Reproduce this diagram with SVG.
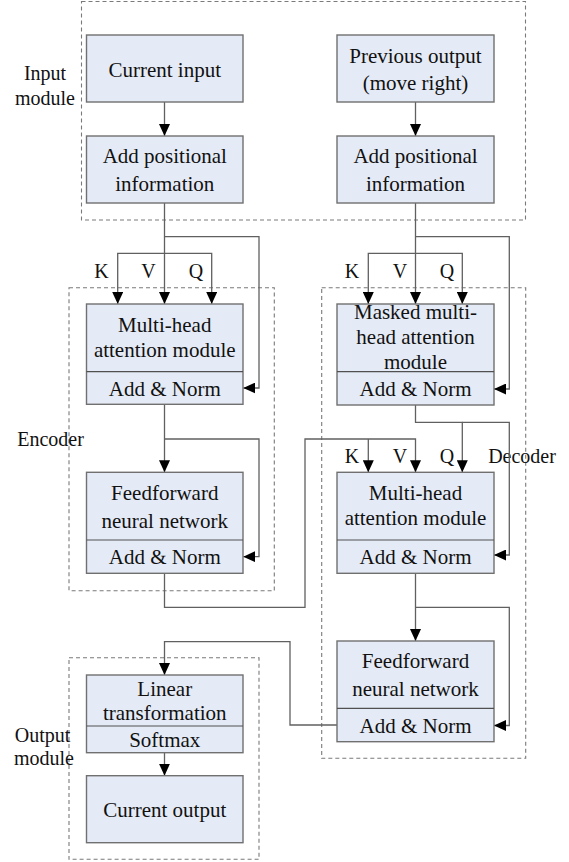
<svg xmlns="http://www.w3.org/2000/svg" width="569" height="862" viewBox="0 0 569 862">
<defs>
<style>
.box{fill:#e5ebf6;stroke:#707070;stroke-width:1.4}
.div{stroke:#505050;stroke-width:1.2}
.grp{fill:none;stroke:#7a7a7a;stroke-width:1.1;stroke-dasharray:4,3}
.ln{fill:none;stroke:#606060;stroke-width:1.3}
.t{font-family:"Liberation Serif","Times New Roman",serif;font-size:21px;fill:#111;text-anchor:middle}
.lb{font-family:"Liberation Serif","Times New Roman",serif;font-size:20px;fill:#111;text-anchor:middle}
</style>
<marker id="ar" viewBox="0 0 12 11" refX="12" refY="5.5" markerWidth="12" markerHeight="11" markerUnits="userSpaceOnUse" orient="auto">
<path d="M0,0 L12,5.5 L0,11 z" fill="#000"/>
</marker>
</defs>
<rect width="569" height="862" fill="#fff"/>

<g id="groups">
<rect class="grp" x="81.5" y="1.5" width="444" height="218.5"/>
<rect class="grp" x="69" y="287.7" width="205.3" height="303"/>
<rect class="grp" x="321.7" y="287.7" width="204" height="470.6"/>
<rect class="grp" x="69" y="657.7" width="190" height="201.6"/>
</g>

<g id="labels">
<text class="lb" x="45" y="80">Input</text>
<text class="lb" x="45" y="105">module</text>
<text class="lb" x="50.5" y="446">Encoder</text>
<text class="lb" x="522" y="463">Decoder</text>
<text class="lb" x="42.5" y="742">Output</text>
<text class="lb" x="44" y="765">module</text>
<text class="lb" x="101.5" y="278">K</text>
<text class="lb" x="148.5" y="278">V</text>
<text class="lb" x="196" y="278">Q</text>
<text class="lb" x="352" y="278">K</text>
<text class="lb" x="400" y="278">V</text>
<text class="lb" x="447" y="278">Q</text>
<text class="lb" x="352" y="463">K</text>
<text class="lb" x="400" y="463">V</text>
<text class="lb" x="447" y="463">Q</text>
</g>

<g id="connectors">
<path class="ln" d="M164.5,102 V136" marker-end="url(#ar)"/>
<path class="ln" d="M415.5,102 V136" marker-end="url(#ar)"/>
<path class="ln" d="M164.5,203 V304" marker-end="url(#ar)"/>
<path class="ln" d="M164.5,253.3 H117.7 V304" marker-end="url(#ar)"/>
<path class="ln" d="M164.5,253.3 H211.7 V304" marker-end="url(#ar)"/>
<path class="ln" d="M164.5,236.7 H259 V388 H243.3" marker-end="url(#ar)"/>
<path class="ln" d="M164.5,404.3 V472.3" marker-end="url(#ar)"/>
<path class="ln" d="M164.5,439 H259 V556.7 H243.3" marker-end="url(#ar)"/>
<path class="ln" d="M164.5,573.3 V607.3 H305 V439 H415.5 V472.3" marker-end="url(#ar)"/>
<path class="ln" d="M368.3,439 V472.3" marker-end="url(#ar)"/>
<path class="ln" d="M415.5,203 V304" marker-end="url(#ar)"/>
<path class="ln" d="M415.5,253.3 H368.3 V304" marker-end="url(#ar)"/>
<path class="ln" d="M415.5,253.3 H462.3 V304" marker-end="url(#ar)"/>
<path class="ln" d="M415.5,236.7 H509.3 V389 H494" marker-end="url(#ar)"/>
<path class="ln" d="M415.5,405 V422.3 H462.3 V472.3" marker-end="url(#ar)"/>
<path class="ln" d="M462.3,422.3 H509.3 V555 H494" marker-end="url(#ar)"/>
<path class="ln" d="M415.5,573.3 V641" marker-end="url(#ar)"/>
<path class="ln" d="M415.5,607.3 H509.3 V725.5 H494" marker-end="url(#ar)"/>
<path class="ln" d="M337,725 H290 V641.7 H164.5 V675" marker-end="url(#ar)"/>
<path class="ln" d="M164.5,752.7 V775.7" marker-end="url(#ar)"/>
</g>

<g id="current-input">
<rect class="box" x="86.5" y="35" width="156.5" height="67"/>
<text class="t" x="164.75" y="77">Current input</text>
</g>
<g id="add-pos-left">
<rect class="box" x="86.5" y="136" width="156.5" height="67"/>
<text class="t" x="164.75" y="163">Add positional</text>
<text class="t" x="164.75" y="191">information</text>
</g>
<g id="previous-output">
<rect class="box" x="337" y="35" width="157" height="67"/>
<text class="t" x="415.5" y="63">Previous output</text>
<text class="t" x="415.5" y="90">(move right)</text>
</g>
<g id="add-pos-right">
<rect class="box" x="337" y="136" width="157" height="67"/>
<text class="t" x="415.5" y="163">Add positional</text>
<text class="t" x="415.5" y="191">information</text>
</g>

<g id="enc-mha">
<rect class="box" x="86.5" y="304" width="156.5" height="100.3"/>
<line class="div" x1="86.5" y1="371.7" x2="243" y2="371.7"/>
<text class="t" x="164.75" y="332">Multi-head</text>
<text class="t" x="164.75" y="357">attention module</text>
<text class="t" x="164.75" y="396">Add &amp; Norm</text>
</g>
<g id="enc-ff">
<rect class="box" x="86.5" y="472.3" width="156.5" height="101"/>
<line class="div" x1="86.5" y1="540" x2="243" y2="540"/>
<text class="t" x="164.75" y="499.5">Feedforward</text>
<text class="t" x="164.75" y="527.5">neural network</text>
<text class="t" x="164.75" y="563.5">Add &amp; Norm</text>
</g>

<g id="dec-masked">
<rect class="box" x="337" y="304" width="157" height="101"/>
<line class="div" x1="337" y1="371.7" x2="494" y2="371.7"/>
<text class="t" x="415.5" y="318.7">Masked multi-</text>
<text class="t" x="415.5" y="344">head attention</text>
<text class="t" x="415.5" y="369">module</text>
<text class="t" x="415.5" y="395.5">Add &amp; Norm</text>
</g>
<g id="dec-mha">
<rect class="box" x="337" y="472.3" width="157" height="101"/>
<line class="div" x1="337" y1="540" x2="494" y2="540"/>
<text class="t" x="415.5" y="500">Multi-head</text>
<text class="t" x="415.5" y="525">attention module</text>
<text class="t" x="415.5" y="564">Add &amp; Norm</text>
</g>
<g id="dec-ff">
<rect class="box" x="337" y="641" width="157" height="100.7"/>
<line class="div" x1="337" y1="708.3" x2="494" y2="708.3"/>
<text class="t" x="415.5" y="668.3">Feedforward</text>
<text class="t" x="415.5" y="696">neural network</text>
<text class="t" x="415.5" y="732.7">Add &amp; Norm</text>
</g>

<g id="linear-softmax">
<rect class="box" x="86.5" y="675" width="156.5" height="77.7"/>
<line class="div" x1="86.5" y1="726" x2="243" y2="726"/>
<text class="t" x="164.75" y="695.5">Linear</text>
<text class="t" x="164.75" y="719.5">transformation</text>
<text class="t" x="164.75" y="746.5">Softmax</text>
</g>
<g id="current-output">
<rect class="box" x="86.5" y="775.7" width="156.5" height="67"/>
<text class="t" x="164.75" y="816.5">Current output</text>
</g>
</svg>
